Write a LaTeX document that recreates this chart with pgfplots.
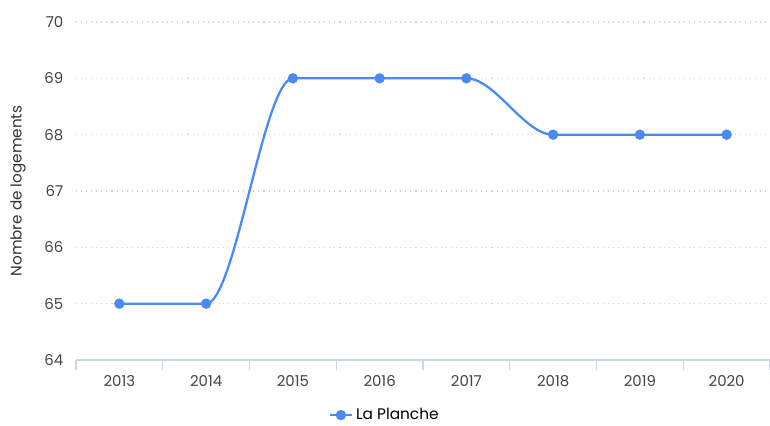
\documentclass[border=0pt]{standalone}
\usepackage{pgfplots}
\pgfplotsset{compat=1.18}
\usepackage{fontspec}
\setmainfont{Poppins}
\definecolor{lineblue}{HTML}{4A8AF4}
\definecolor{axisc}{HTML}{CCD6EB}
\definecolor{gridc}{HTML}{D0D0D0}
\definecolor{labc}{HTML}{444444}
\makeatletter
\newif\ifhm@started
\newdimen\hm@xa \newdimen\hm@ya \newdimen\hm@xb \newdimen\hm@yb \newdimen\hm@dx
\def\hm@point#1{%
  \pgf@process{#1}%
  \hm@xb=\pgf@x \hm@yb=\pgf@y
  \ifhm@started
    \hm@dx=\hm@xb \advance\hm@dx by -\hm@xa \divide\hm@dx by 3
    \pgfpathcurveto{\pgfqpoint{\dimexpr\hm@xa+\hm@dx\relax}{\hm@ya}}{\pgfqpoint{\dimexpr\hm@xb-\hm@dx\relax}{\hm@yb}}{\pgfqpoint{\hm@xb}{\hm@yb}}%
  \else
    \pgf@plot@first@action{\pgfqpoint{\hm@xb}{\hm@yb}}%
    \global\hm@startedtrue
  \fi
  \global\hm@xa=\hm@xb \global\hm@ya=\hm@yb
}
\pgfdeclareplothandler{\pgfplothandlerhmono}{}{%
  point macro=\hm@point,
  start=\global\hm@startedfalse
}
\tikzset{hmono/.code={\let\tikz@plot@handler=\pgfplothandlerhmono}}
\makeatother
\begin{document}
\begin{tikzpicture}
\useasboundingbox (-57pt,-48.75pt) rectangle (520.5pt,270pt);
\begin{axis}[
  at={(0,0)}, anchor=south west,
  scale only axis, width=520.5pt, height=253.5pt,
  xmin=-0.5, xmax=7.5, ymin=64, ymax=70,
  xtick={0,...,7},
  xticklabels={2013,2014,2015,2016,2017,2018,2019,2020},
  minor xtick={-0.5,0.5,...,7.5},
  ytick={64,...,70},
  axis x line*=bottom, axis y line*=left,
  x axis line style={color=axisc, line width=0.8pt, -},
  y axis line style={draw=none},
  major tick style={draw=none},
  minor x tick style={color=axisc, line width=0.8pt},
  minor tick length=7.5pt,
  xtick align=outside,
  ymajorgrids,
  major grid style={gridc, line width=0.8pt, dash pattern=on 0.8pt off 3pt},
  tick label style={font=\fontsize{11.2}{12}\selectfont, text=labc},
  /pgf/number format/assume math mode=true,
  xticklabel style={yshift=-4pt},
  yticklabel style={xshift=-6pt},
  ylabel={Nombre de logements},
  ylabel style={font=\fontsize{11.4}{12}\selectfont, text=black!80},
  legend style={at={(0.445,-0.163)}, anchor=center, draw=none, font=\fontsize{11.5}{13}\selectfont, legend columns=1},
  legend cell align=left,
  clip=false,
]
\pgfplotsset{every axis y label/.style={at={(-43.5pt,126.75pt)}, rotate=90, anchor=center}}
\addplot[hmono, color=lineblue, line width=1.7pt, mark=*, mark size=3pt, mark options={fill=lineblue, draw=lineblue}] coordinates {
(0,65) (1,65) (2,69) (3,69) (4,69) (5,68) (6,68) (7,68)
};
\addlegendentry{La Planche}
\end{axis}
\end{tikzpicture}
\end{document}
